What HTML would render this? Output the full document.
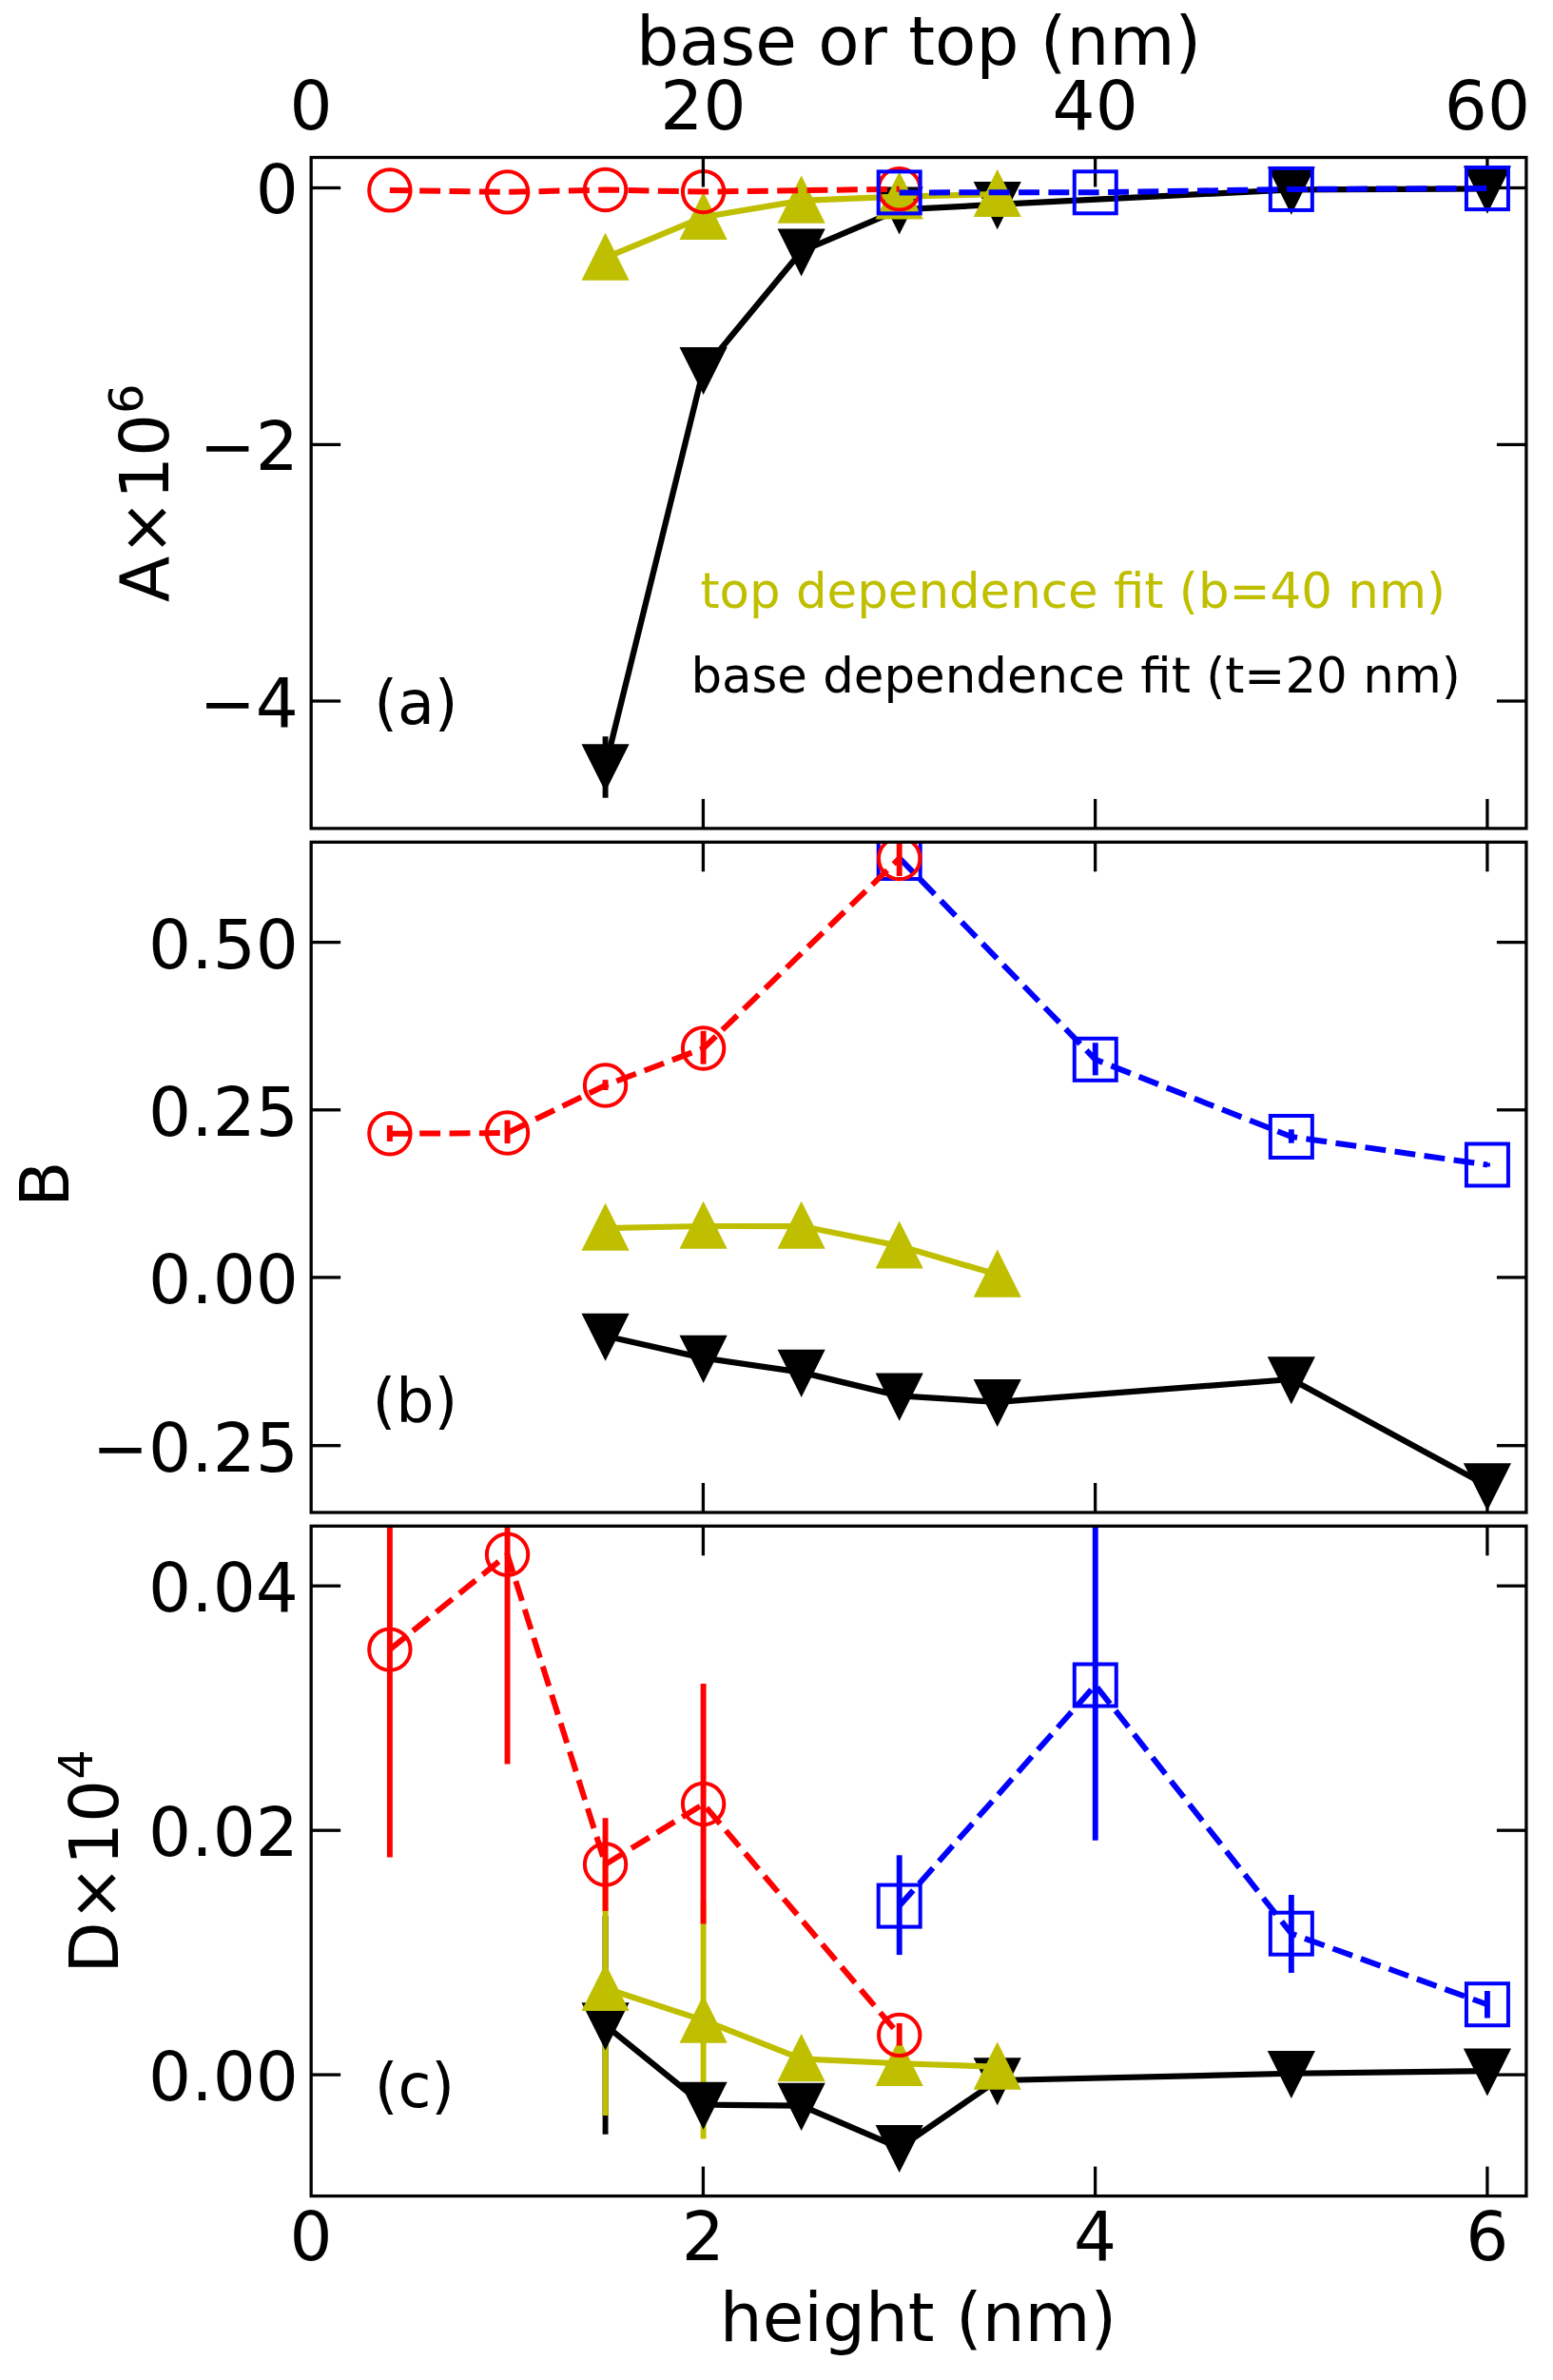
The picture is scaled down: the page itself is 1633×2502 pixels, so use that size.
<!DOCTYPE html>
<html lang="en"><head><meta charset="utf-8"><title>Fit parameters vs height, base or top</title>
<style>html,body{margin:0;padding:0;background:#fff}svg{display:block}</style></head>
<body>
<svg width="1633" height="2502" viewBox="0 0 1633 2502" font-family="'DejaVu Sans', 'Liberation Sans', sans-serif" fill="#000">
<rect width="1633" height="2502" fill="#fff"/>
<defs>
<clipPath id="cpa"><rect x="327.15" y="165.5" width="1277.75" height="705.4"/></clipPath>
<clipPath id="cpb"><rect x="327.15" y="885.3" width="1277.75" height="704.7"/></clipPath>
<clipPath id="cpc"><rect x="327.15" y="1604.3" width="1277.75" height="704.3"/></clipPath>
</defs>
<g id="panel-a">
<line x1="739.4" y1="870.9" x2="739.4" y2="839.9" stroke="#000000" stroke-width="3.3"/>
<line x1="1151.65" y1="165.5" x2="1151.65" y2="196.5" stroke="#000000" stroke-width="3.3"/>
<line x1="1151.65" y1="870.9" x2="1151.65" y2="839.9" stroke="#000000" stroke-width="3.3"/>
<line x1="1563.9" y1="165.5" x2="1563.9" y2="196.5" stroke="#000000" stroke-width="3.3"/>
<line x1="1563.9" y1="870.9" x2="1563.9" y2="839.9" stroke="#000000" stroke-width="3.3"/>
<line x1="327.15" y1="197.5" x2="358.15" y2="197.5" stroke="#000000" stroke-width="3.3"/>
<line x1="1604.9" y1="197.5" x2="1573.9" y2="197.5" stroke="#000000" stroke-width="3.3"/>
<line x1="327.15" y1="467.4" x2="358.15" y2="467.4" stroke="#000000" stroke-width="3.3"/>
<line x1="1604.9" y1="467.4" x2="1573.9" y2="467.4" stroke="#000000" stroke-width="3.3"/>
<line x1="327.15" y1="737" x2="358.15" y2="737" stroke="#000000" stroke-width="3.3"/>
<line x1="1604.9" y1="737" x2="1573.9" y2="737" stroke="#000000" stroke-width="3.3"/>
<g clip-path="url(#cpa)">
<line x1="636.57" y1="774.2" x2="636.57" y2="838.7" stroke="#000000" stroke-width="5.9"/>
<polyline points="636.57,806 739.61,388.8 842.65,264.25 945.69,220.3 1048.73,214.9 1357.85,199.4 1563.93,198.4" fill="none" stroke="#000000" stroke-width="6.25" stroke-linejoin="round" stroke-linecap="square"/>
<polygon points="636.57,827.85 614.72,784.15 658.42,784.15" fill="#000000" stroke="#000000" stroke-width="4.0" stroke-miterlimit="10"/>
<polygon points="739.61,410.65 717.76,366.95 761.46,366.95" fill="#000000" stroke="#000000" stroke-width="4.0" stroke-miterlimit="10"/>
<polygon points="842.65,286.1 820.8,242.4 864.5,242.4" fill="#000000" stroke="#000000" stroke-width="4.0" stroke-miterlimit="10"/>
<polygon points="945.69,242.15 923.84,198.45 967.54,198.45" fill="#000000" stroke="#000000" stroke-width="4.0" stroke-miterlimit="10"/>
<polygon points="1048.73,236.75 1026.88,193.05 1070.58,193.05" fill="#000000" stroke="#000000" stroke-width="4.0" stroke-miterlimit="10"/>
<polygon points="1357.85,221.25 1336,177.55 1379.7,177.55" fill="#000000" stroke="#000000" stroke-width="4.0" stroke-miterlimit="10"/>
<polygon points="1563.93,220.25 1542.08,176.55 1585.78,176.55" fill="#000000" stroke="#000000" stroke-width="4.0" stroke-miterlimit="10"/>
<polyline points="636.57,271 739.61,228.15 842.65,210.85 945.69,206.7 1048.73,204.2" fill="none" stroke="#bfbf00" stroke-width="6.25" stroke-linejoin="round" stroke-linecap="square"/>
<polygon points="636.57,249.15 614.72,292.85 658.42,292.85" fill="#bfbf00" stroke="#bfbf00" stroke-width="4.0" stroke-miterlimit="10"/>
<polygon points="739.61,206.3 717.76,250 761.46,250" fill="#bfbf00" stroke="#bfbf00" stroke-width="4.0" stroke-miterlimit="10"/>
<polygon points="842.65,189 820.8,232.7 864.5,232.7" fill="#bfbf00" stroke="#bfbf00" stroke-width="4.0" stroke-miterlimit="10"/>
<polygon points="945.69,184.85 923.84,228.55 967.54,228.55" fill="#bfbf00" stroke="#bfbf00" stroke-width="4.0" stroke-miterlimit="10"/>
<polygon points="1048.73,182.35 1026.88,226.05 1070.58,226.05" fill="#bfbf00" stroke="#bfbf00" stroke-width="4.0" stroke-miterlimit="10"/>
<polyline points="409.88,199.9 533.53,201.9 636.57,199.5 739.61,201.6 945.69,198.7" fill="none" stroke="#ff0000" stroke-width="6.0" stroke-dasharray="21.9 9.44" stroke-linejoin="round"/>
<circle cx="409.88" cy="199.9" r="21.7" fill="none" stroke="#ff0000" stroke-width="4.0"/>
<circle cx="533.53" cy="201.9" r="21.7" fill="none" stroke="#ff0000" stroke-width="4.0"/>
<circle cx="636.57" cy="199.5" r="21.7" fill="none" stroke="#ff0000" stroke-width="4.0"/>
<circle cx="739.61" cy="201.6" r="21.7" fill="none" stroke="#ff0000" stroke-width="4.0"/>
<circle cx="945.69" cy="198.7" r="21.7" fill="none" stroke="#ff0000" stroke-width="4.0"/>
<line x1="739.4" y1="165.5" x2="739.4" y2="196.5" stroke="#000000" stroke-width="3.3"/>
<polyline points="945.69,202.4 1151.77,202.3 1357.85,198.95 1563.93,198.1" fill="none" stroke="#0000ff" stroke-width="6.0" stroke-dasharray="21.9 9.44" stroke-linejoin="round"/>
<rect x="923.69" y="180.4" width="44" height="44" fill="none" stroke="#0000ff" stroke-width="4.0"/>
<rect x="1129.77" y="180.3" width="44" height="44" fill="none" stroke="#0000ff" stroke-width="4.0"/>
<rect x="1335.85" y="176.95" width="44" height="44" fill="none" stroke="#0000ff" stroke-width="4.0"/>
<rect x="1541.93" y="176.1" width="44" height="44" fill="none" stroke="#0000ff" stroke-width="4.0"/>
</g>
<rect x="327.15" y="165.5" width="1277.75" height="705.4" fill="none" stroke="#000" stroke-width="3.3"/>
<text x="313.8" y="224.4" font-size="70.83" text-anchor="end">0</text>
<text x="313.8" y="494.3" font-size="70.83" text-anchor="end">−2</text>
<text x="313.8" y="763.9" font-size="70.83" text-anchor="end">−4</text>
</g>
<g id="panel-b">
<line x1="739.4" y1="885.3" x2="739.4" y2="916.3" stroke="#000000" stroke-width="3.3"/>
<line x1="739.4" y1="1590" x2="739.4" y2="1559" stroke="#000000" stroke-width="3.3"/>
<line x1="1151.65" y1="885.3" x2="1151.65" y2="916.3" stroke="#000000" stroke-width="3.3"/>
<line x1="1151.65" y1="1590" x2="1151.65" y2="1559" stroke="#000000" stroke-width="3.3"/>
<line x1="1563.9" y1="885.3" x2="1563.9" y2="916.3" stroke="#000000" stroke-width="3.3"/>
<line x1="1563.9" y1="1590" x2="1563.9" y2="1559" stroke="#000000" stroke-width="3.3"/>
<line x1="327.15" y1="990.6" x2="358.15" y2="990.6" stroke="#000000" stroke-width="3.3"/>
<line x1="1604.9" y1="990.6" x2="1573.9" y2="990.6" stroke="#000000" stroke-width="3.3"/>
<line x1="327.15" y1="1166.8" x2="358.15" y2="1166.8" stroke="#000000" stroke-width="3.3"/>
<line x1="1604.9" y1="1166.8" x2="1573.9" y2="1166.8" stroke="#000000" stroke-width="3.3"/>
<line x1="327.15" y1="1342.9" x2="358.15" y2="1342.9" stroke="#000000" stroke-width="3.3"/>
<line x1="1604.9" y1="1342.9" x2="1573.9" y2="1342.9" stroke="#000000" stroke-width="3.3"/>
<line x1="327.15" y1="1519.7" x2="358.15" y2="1519.7" stroke="#000000" stroke-width="3.3"/>
<line x1="1604.9" y1="1519.7" x2="1573.9" y2="1519.7" stroke="#000000" stroke-width="3.3"/>
<g clip-path="url(#cpb)">
<polyline points="636.57,1404.5 739.61,1427.6 842.65,1442.6 945.69,1467.4 1048.73,1473.8 1357.85,1450 1563.93,1562" fill="none" stroke="#000000" stroke-width="6.25" stroke-linejoin="round" stroke-linecap="square"/>
<polygon points="636.57,1426.35 614.72,1382.65 658.42,1382.65" fill="#000000" stroke="#000000" stroke-width="4.0" stroke-miterlimit="10"/>
<polygon points="739.61,1449.45 717.76,1405.75 761.46,1405.75" fill="#000000" stroke="#000000" stroke-width="4.0" stroke-miterlimit="10"/>
<polygon points="842.65,1464.45 820.8,1420.75 864.5,1420.75" fill="#000000" stroke="#000000" stroke-width="4.0" stroke-miterlimit="10"/>
<polygon points="945.69,1489.25 923.84,1445.55 967.54,1445.55" fill="#000000" stroke="#000000" stroke-width="4.0" stroke-miterlimit="10"/>
<polygon points="1048.73,1495.65 1026.88,1451.95 1070.58,1451.95" fill="#000000" stroke="#000000" stroke-width="4.0" stroke-miterlimit="10"/>
<polygon points="1357.85,1471.85 1336,1428.15 1379.7,1428.15" fill="#000000" stroke="#000000" stroke-width="4.0" stroke-miterlimit="10"/>
<polygon points="1563.93,1583.85 1542.08,1540.15 1585.78,1540.15" fill="#000000" stroke="#000000" stroke-width="4.0" stroke-miterlimit="10"/>
<polyline points="636.57,1291 739.61,1289 842.65,1289 945.69,1309.7 1048.73,1339.9" fill="none" stroke="#bfbf00" stroke-width="6.25" stroke-linejoin="round" stroke-linecap="square"/>
<polygon points="636.57,1269.15 614.72,1312.85 658.42,1312.85" fill="#bfbf00" stroke="#bfbf00" stroke-width="4.0" stroke-miterlimit="10"/>
<polygon points="739.61,1267.15 717.76,1310.85 761.46,1310.85" fill="#bfbf00" stroke="#bfbf00" stroke-width="4.0" stroke-miterlimit="10"/>
<polygon points="842.65,1267.15 820.8,1310.85 864.5,1310.85" fill="#bfbf00" stroke="#bfbf00" stroke-width="4.0" stroke-miterlimit="10"/>
<polygon points="945.69,1287.85 923.84,1331.55 967.54,1331.55" fill="#bfbf00" stroke="#bfbf00" stroke-width="4.0" stroke-miterlimit="10"/>
<polygon points="1048.73,1318.05 1026.88,1361.75 1070.58,1361.75" fill="#bfbf00" stroke="#bfbf00" stroke-width="4.0" stroke-miterlimit="10"/>
<line x1="1151.77" y1="1096.25" x2="1151.77" y2="1130.4" stroke="#0000ff" stroke-width="5.9"/>
<line x1="1357.85" y1="1187.3" x2="1357.85" y2="1201.7" stroke="#0000ff" stroke-width="5.9"/>
<line x1="1563.93" y1="1222.5" x2="1563.93" y2="1226.5" stroke="#0000ff" stroke-width="5.9"/>
<polyline points="945.69,902 1151.77,1113.8 1357.85,1195 1563.93,1224.5" fill="none" stroke="#0000ff" stroke-width="6.0" stroke-dasharray="21.9 9.44" stroke-linejoin="round"/>
<rect x="923.69" y="880" width="44" height="44" fill="none" stroke="#0000ff" stroke-width="4.0"/>
<rect x="1129.77" y="1091.8" width="44" height="44" fill="none" stroke="#0000ff" stroke-width="4.0"/>
<rect x="1335.85" y="1173" width="44" height="44" fill="none" stroke="#0000ff" stroke-width="4.0"/>
<rect x="1541.93" y="1202.5" width="44" height="44" fill="none" stroke="#0000ff" stroke-width="4.0"/>
<polyline points="409.88,1191.8 533.53,1191 636.57,1141 739.61,1102 945.69,902.5" fill="none" stroke="#ff0000" stroke-width="6.0" stroke-dasharray="21.9 9.44" stroke-linejoin="round"/>
<line x1="409.88" y1="1183.1" x2="409.88" y2="1200.1" stroke="#ff0000" stroke-width="5.9"/>
<line x1="533.53" y1="1177.6" x2="533.53" y2="1202" stroke="#ff0000" stroke-width="5.9"/>
<line x1="636.57" y1="1135.2" x2="636.57" y2="1146" stroke="#ff0000" stroke-width="5.9"/>
<line x1="739.61" y1="1083.8" x2="739.61" y2="1118.7" stroke="#ff0000" stroke-width="5.9"/>
<line x1="945.69" y1="870" x2="945.69" y2="921" stroke="#ff0000" stroke-width="5.9"/>
<circle cx="409.88" cy="1191.8" r="21.7" fill="none" stroke="#ff0000" stroke-width="4.0"/>
<circle cx="533.53" cy="1191" r="21.7" fill="none" stroke="#ff0000" stroke-width="4.0"/>
<circle cx="636.57" cy="1141" r="21.7" fill="none" stroke="#ff0000" stroke-width="4.0"/>
<circle cx="739.61" cy="1102" r="21.7" fill="none" stroke="#ff0000" stroke-width="4.0"/>
<circle cx="945.69" cy="902.5" r="21.7" fill="none" stroke="#ff0000" stroke-width="4.0"/>
</g>
<rect x="327.15" y="885.3" width="1277.75" height="704.7" fill="none" stroke="#000" stroke-width="3.3"/>
<text x="313.8" y="1017.5" font-size="70.83" text-anchor="end">0.50</text>
<text x="313.8" y="1193.7" font-size="70.83" text-anchor="end">0.25</text>
<text x="313.8" y="1369.8" font-size="70.83" text-anchor="end">0.00</text>
<text x="313.8" y="1546.6" font-size="70.83" text-anchor="end">−0.25</text>
</g>
<g id="panel-c">
<line x1="739.4" y1="1604.3" x2="739.4" y2="1635.3" stroke="#000000" stroke-width="3.3"/>
<line x1="739.4" y1="2308.6" x2="739.4" y2="2277.6" stroke="#000000" stroke-width="3.3"/>
<line x1="1151.65" y1="1604.3" x2="1151.65" y2="1635.3" stroke="#000000" stroke-width="3.3"/>
<line x1="1151.65" y1="2308.6" x2="1151.65" y2="2277.6" stroke="#000000" stroke-width="3.3"/>
<line x1="1563.9" y1="1604.3" x2="1563.9" y2="1635.3" stroke="#000000" stroke-width="3.3"/>
<line x1="1563.9" y1="2308.6" x2="1563.9" y2="2277.6" stroke="#000000" stroke-width="3.3"/>
<line x1="327.15" y1="1667.2" x2="358.15" y2="1667.2" stroke="#000000" stroke-width="3.3"/>
<line x1="1604.9" y1="1667.2" x2="1573.9" y2="1667.2" stroke="#000000" stroke-width="3.3"/>
<line x1="327.15" y1="1924.2" x2="358.15" y2="1924.2" stroke="#000000" stroke-width="3.3"/>
<line x1="1604.9" y1="1924.2" x2="1573.9" y2="1924.2" stroke="#000000" stroke-width="3.3"/>
<line x1="327.15" y1="2181.1" x2="358.15" y2="2181.1" stroke="#000000" stroke-width="3.3"/>
<line x1="1604.9" y1="2181.1" x2="1573.9" y2="2181.1" stroke="#000000" stroke-width="3.3"/>
<g clip-path="url(#cpc)">
<line x1="636.57" y1="2014" x2="636.57" y2="2243.8" stroke="#000000" stroke-width="5.9"/>
<line x1="636.57" y1="1956.6" x2="636.57" y2="2223.9" stroke="#bfbf00" stroke-width="5.9"/>
<line x1="739.61" y1="1999.1" x2="739.61" y2="2248.6" stroke="#bfbf00" stroke-width="5.9"/>
<line x1="945.69" y1="1950.3" x2="945.69" y2="2055.1" stroke="#0000ff" stroke-width="5.9"/>
<line x1="1151.77" y1="1590" x2="1151.77" y2="1934.7" stroke="#0000ff" stroke-width="5.9"/>
<line x1="1357.85" y1="1992" x2="1357.85" y2="2074" stroke="#0000ff" stroke-width="5.9"/>
<line x1="1563.93" y1="2092.9" x2="1563.93" y2="2121.5" stroke="#0000ff" stroke-width="5.9"/>
<polyline points="636.57,2129.1 739.61,2212.5 842.65,2213.7 945.69,2257.8 1048.73,2187 1357.85,2179.75 1563.93,2177.25" fill="none" stroke="#000000" stroke-width="6.25" stroke-linejoin="round" stroke-linecap="square"/>
<polygon points="636.57,2150.95 614.72,2107.25 658.42,2107.25" fill="#000000" stroke="#000000" stroke-width="4.0" stroke-miterlimit="10"/>
<polygon points="739.61,2234.35 717.76,2190.65 761.46,2190.65" fill="#000000" stroke="#000000" stroke-width="4.0" stroke-miterlimit="10"/>
<polygon points="842.65,2235.55 820.8,2191.85 864.5,2191.85" fill="#000000" stroke="#000000" stroke-width="4.0" stroke-miterlimit="10"/>
<polygon points="945.69,2279.65 923.84,2235.95 967.54,2235.95" fill="#000000" stroke="#000000" stroke-width="4.0" stroke-miterlimit="10"/>
<polygon points="1048.73,2208.85 1026.88,2165.15 1070.58,2165.15" fill="#000000" stroke="#000000" stroke-width="4.0" stroke-miterlimit="10"/>
<polygon points="1357.85,2201.6 1336,2157.9 1379.7,2157.9" fill="#000000" stroke="#000000" stroke-width="4.0" stroke-miterlimit="10"/>
<polygon points="1563.93,2199.1 1542.08,2155.4 1585.78,2155.4" fill="#000000" stroke="#000000" stroke-width="4.0" stroke-miterlimit="10"/>
<polyline points="636.57,2090.25 739.61,2123.85 842.65,2164.3 945.69,2169.25 1048.73,2172.8" fill="none" stroke="#bfbf00" stroke-width="6.25" stroke-linejoin="round" stroke-linecap="square"/>
<polygon points="636.57,2068.4 614.72,2112.1 658.42,2112.1" fill="#bfbf00" stroke="#bfbf00" stroke-width="4.0" stroke-miterlimit="10"/>
<polygon points="739.61,2102 717.76,2145.7 761.46,2145.7" fill="#bfbf00" stroke="#bfbf00" stroke-width="4.0" stroke-miterlimit="10"/>
<polygon points="842.65,2142.45 820.8,2186.15 864.5,2186.15" fill="#bfbf00" stroke="#bfbf00" stroke-width="4.0" stroke-miterlimit="10"/>
<polygon points="945.69,2147.4 923.84,2191.1 967.54,2191.1" fill="#bfbf00" stroke="#bfbf00" stroke-width="4.0" stroke-miterlimit="10"/>
<polygon points="1048.73,2150.95 1026.88,2194.65 1070.58,2194.65" fill="#bfbf00" stroke="#bfbf00" stroke-width="4.0" stroke-miterlimit="10"/>
<polyline points="409.88,1734.1 533.53,1634.3 636.57,1960 739.61,1896.5 945.69,2139.4" fill="none" stroke="#ff0000" stroke-width="6.0" stroke-dasharray="21.9 9.44" stroke-linejoin="round"/>
<line x1="409.88" y1="1500" x2="409.88" y2="1952.6" stroke="#ff0000" stroke-width="5.9"/>
<line x1="533.53" y1="1400" x2="533.53" y2="1854.5" stroke="#ff0000" stroke-width="5.9"/>
<line x1="636.57" y1="1911.2" x2="636.57" y2="2008.9" stroke="#ff0000" stroke-width="5.9"/>
<line x1="739.61" y1="1770.1" x2="739.61" y2="2022.6" stroke="#ff0000" stroke-width="5.9"/>
<line x1="945.69" y1="2126.9" x2="945.69" y2="2150.5" stroke="#ff0000" stroke-width="5.9"/>
<circle cx="409.88" cy="1734.1" r="21.7" fill="none" stroke="#ff0000" stroke-width="4.0"/>
<circle cx="533.53" cy="1634.3" r="21.7" fill="none" stroke="#ff0000" stroke-width="4.0"/>
<circle cx="636.57" cy="1960" r="21.7" fill="none" stroke="#ff0000" stroke-width="4.0"/>
<circle cx="739.61" cy="1896.5" r="21.7" fill="none" stroke="#ff0000" stroke-width="4.0"/>
<circle cx="945.69" cy="2139.4" r="21.7" fill="none" stroke="#ff0000" stroke-width="4.0"/>
<polyline points="945.69,2003.6 1151.77,1771.5 1357.85,2032.7 1563.93,2107.2" fill="none" stroke="#0000ff" stroke-width="6.0" stroke-dasharray="21.9 9.44" stroke-linejoin="round"/>
<rect x="923.69" y="1981.6" width="44" height="44" fill="none" stroke="#0000ff" stroke-width="4.0"/>
<rect x="1129.77" y="1749.5" width="44" height="44" fill="none" stroke="#0000ff" stroke-width="4.0"/>
<rect x="1335.85" y="2010.7" width="44" height="44" fill="none" stroke="#0000ff" stroke-width="4.0"/>
<rect x="1541.93" y="2085.2" width="44" height="44" fill="none" stroke="#0000ff" stroke-width="4.0"/>
</g>
<rect x="327.15" y="1604.3" width="1277.75" height="704.3" fill="none" stroke="#000" stroke-width="3.3"/>
<text x="313.8" y="1694.1" font-size="70.83" text-anchor="end">0.04</text>
<text x="313.8" y="1951.1" font-size="70.83" text-anchor="end">0.02</text>
<text x="313.8" y="2208" font-size="70.83" text-anchor="end">0.00</text>
</g>
<text x="327.15" y="136.3" font-size="70.83" text-anchor="middle">0</text>
<text x="739.4" y="136.3" font-size="70.83" text-anchor="middle">20</text>
<text x="1151.65" y="136.3" font-size="70.83" text-anchor="middle">40</text>
<text x="1563.9" y="136.3" font-size="70.83" text-anchor="middle">60</text>
<text x="966" y="67.5" font-size="70.83" text-anchor="middle">base or top (nm)</text>
<text x="327.15" y="2376.3" font-size="70.83" text-anchor="middle">0</text>
<text x="739.4" y="2376.3" font-size="70.83" text-anchor="middle">2</text>
<text x="1151.65" y="2376.3" font-size="70.83" text-anchor="middle">4</text>
<text x="1563.9" y="2376.3" font-size="70.83" text-anchor="middle">6</text>
<text x="965.5" y="2460.9" font-size="70.83" text-anchor="middle">height (nm)</text>
<text transform="translate(176.8,632.9) rotate(-90)" font-size="70.83">A×10<tspan dy="-27.2" font-size="49.58">6</tspan></text>
<text transform="translate(72.2,1268.95) rotate(-90)" font-size="70.83">B</text>
<text transform="translate(124.0,2074.85) rotate(-90)" font-size="70.83">D×10<tspan dy="-27.2" font-size="49.58">4</tspan></text>
<text x="393.2" y="761.2" font-size="63.5">(a)</text>
<text x="391.4" y="1494.85" font-size="63.5">(b)</text>
<text x="393.7" y="2214.5" font-size="63.5">(c)</text>
<text x="736.4" y="639.3" font-size="51.4" fill="#bfbf00">top dependence fit (b=40 nm)</text>
<text x="726.4" y="728.0" font-size="51.4">base dependence fit (t=20 nm)</text>
</svg>
</body></html>
